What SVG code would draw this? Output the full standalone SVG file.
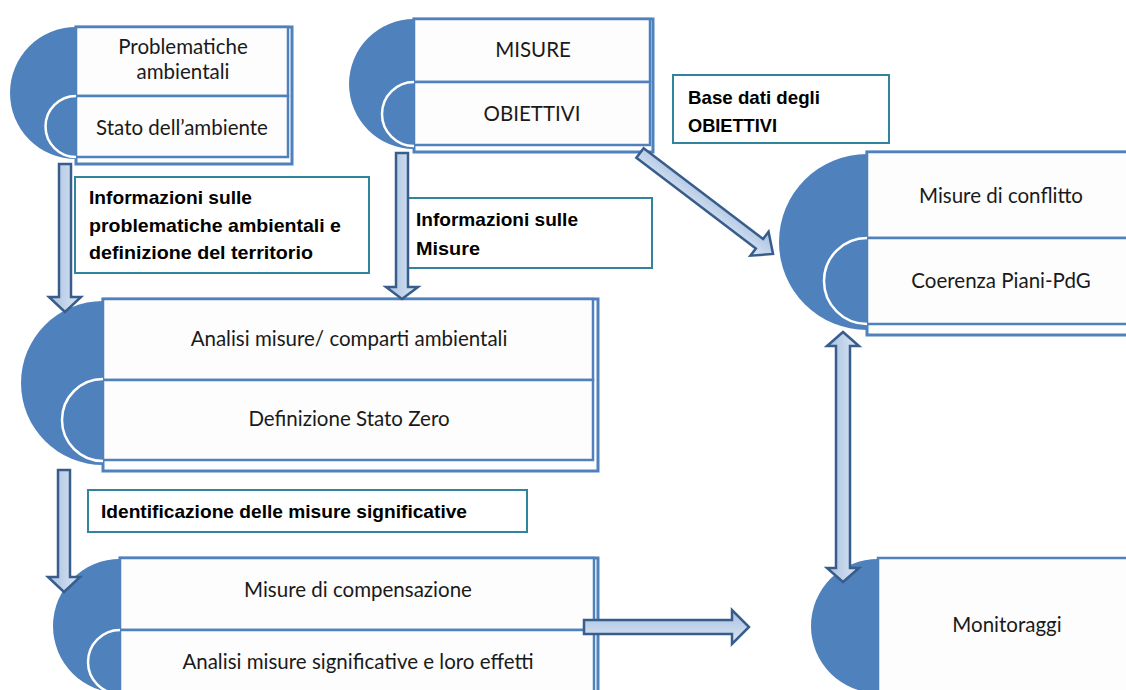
<svg xmlns="http://www.w3.org/2000/svg" width="1126" height="690" viewBox="0 0 1126 690">
<style>
.disc{fill:#4F81BD;}
.inner{fill:none;stroke:#FFFFFF;stroke-width:2.5;}
.row{fill:#FDFDFD;stroke:#4F81BD;stroke-width:2.5;}
.frame{fill:none;stroke:#4F81BD;stroke-width:3;}
.t{font-family:Lato,"Liberation Sans",sans-serif;font-size:20.5px;fill:#1a1a1a;text-anchor:middle;}
.lbl{fill:#FFFFFF;stroke:#31849B;stroke-width:2;}
.b{font-family:"Liberation Sans",Arial,sans-serif;font-weight:bold;font-size:19px;fill:#000;}
.arr{stroke:#385D8A;stroke-width:2.5;stroke-linejoin:miter;}
</style>
<defs>
<linearGradient id="gv" x1="0" y1="0" x2="1" y2="0">
<stop offset="0" stop-color="#A7C0E2"/><stop offset="1" stop-color="#DCE6F2"/>
</linearGradient>
<linearGradient id="gh" x1="0" y1="0" x2="0" y2="1">
<stop offset="0" stop-color="#A7C0E2"/><stop offset="1" stop-color="#DCE6F2"/>
</linearGradient>
</defs>
<rect width="1126" height="690" fill="#FFFFFF"/>

<g id="node-problematiche">
<rect class="frame" x="76" y="27" width="216" height="137"/>
<rect class="row" x="76" y="27" width="212" height="69"/>
<rect class="row" x="76" y="96" width="212" height="61"/>
<path class="disc" d="M76,27 A66,66 0 0 0 76,159 Z"/>
<path class="inner" d="M76,96 A30.5,30.5 0 0 0 76,157"/>
<text class="t" x="183" y="54">Problematiche</text>
<text class="t" x="183" y="79">ambientali</text>
<text class="t" x="182" y="135">Stato dell’ambiente</text>
</g>

<g id="node-misure">
<rect class="frame" x="414" y="19" width="239" height="133"/>
<rect class="row" x="414" y="19" width="236" height="63"/>
<rect class="row" x="414" y="82" width="236" height="63"/>
<path class="disc" d="M414,19 A65,65 0 0 0 414,149 Z"/>
<path class="inner" d="M414,82 A32,32 0 0 0 414,146"/>
<text class="t" x="533" y="57">MISURE</text>
<text class="t" x="532" y="121">OBIETTIVI</text>
</g>

<g id="node-analisi">
<rect class="frame" x="103" y="299" width="495" height="172"/>
<rect class="row" x="103" y="299" width="490" height="81"/>
<rect class="row" x="103" y="380" width="490" height="80"/>
<path class="disc" d="M103,301 A82,82 0 0 0 103,465 Z"/>
<path class="inner" d="M103,379 A41,41 0 0 0 103,461"/>
<text class="t" x="349" y="346">Analisi misure/ comparti ambientali</text>
<text class="t" x="349" y="426">Definizione Stato Zero</text>
</g>

<g id="node-compensazione">
<rect class="frame" x="120" y="558" width="478" height="150"/>
<rect class="row" x="120" y="558" width="474" height="72"/>
<rect class="row" x="120" y="630" width="474" height="72"/>
<path class="disc" d="M120,559 A67,67 0 0 0 120,693 Z"/>
<path class="inner" d="M120,630 A32,32 0 0 0 120,694"/>
<text class="t" x="358" y="597">Misure di compensazione</text>
<text class="t" x="358" y="669">Analisi misure significative e loro effetti</text>
</g>

<g id="node-conflitto">
<rect class="frame" x="867" y="152" width="270" height="183"/>
<rect class="row" x="867" y="152" width="266" height="86"/>
<rect class="row" x="867" y="238" width="266" height="86"/>
<path class="disc" d="M867,154 A88,88 0 0 0 867,330 Z"/>
<path class="inner" d="M867,238 A43,43 0 0 0 867,324"/>
<text class="t" x="1001" y="203">Misure di conflitto</text>
<text class="t" x="1001" y="288">Coerenza Piani-PdG</text>
</g>

<g id="node-monitoraggi">
<rect class="row" x="878" y="558" width="260" height="150"/>
<path class="disc" d="M878,559 A67,67 0 0 0 878,693 Z"/>
<text class="t" x="1007" y="632">Monitoraggi</text>
</g>

<g id="label-informazioni-problematiche">
<rect class="lbl" x="75" y="177" width="294" height="96"/>
<text class="b" x="89" y="204" textLength="163" lengthAdjust="spacingAndGlyphs">Informazioni sulle</text>
<text class="b" x="89" y="232" textLength="252" lengthAdjust="spacingAndGlyphs">problematiche ambientali e</text>
<text class="b" x="89" y="259" textLength="224" lengthAdjust="spacingAndGlyphs">definizione del territorio</text>
</g>

<g id="label-informazioni-misure">
<rect class="lbl" x="408" y="198" width="244" height="70"/>
<text class="b" x="416" y="226" textLength="162" lengthAdjust="spacingAndGlyphs">Informazioni sulle</text>
<text class="b" x="416" y="255" textLength="64" lengthAdjust="spacingAndGlyphs">Misure</text>
</g>

<g id="label-base-dati">
<rect class="lbl" x="673" y="75" width="216" height="68"/>
<text class="b" x="688" y="104" textLength="132" lengthAdjust="spacingAndGlyphs">Base dati degli</text>
<text class="b" x="688" y="132" textLength="89" lengthAdjust="spacingAndGlyphs">OBIETTIVI</text>
</g>

<g id="label-identificazione">
<rect class="lbl" x="88" y="490" width="439" height="42"/>
<text class="b" x="101" y="518" textLength="366" lengthAdjust="spacingAndGlyphs">Identificazione delle misure significative</text>
</g>

<g id="connectors">
<path class="arr" fill="url(#gv)" d="M59,164 H71 V297 H81 L65,312 L49,297 H59 Z"/>
<path class="arr" fill="url(#gv)" d="M396,153 H408 V287 H418 L402,299 L386,287 H396 Z"/>
<path class="arr" fill="url(#gv)" d="M58,470 H70 V577 H80 L64,592 L48,577 H58 Z"/>
<path class="arr" fill="url(#gh)" d="M584,620 H732 V610 L749,627 L732,644 V634 H584 Z"/>
<path class="arr" fill="url(#gh)" transform="translate(640,153) rotate(37.2)" d="M0,-6 H150 V-15 L167,0 L150,15 V6 H0 Z"/>
<path class="arr" fill="url(#gv)" d="M843,332 L859,346 H850 V568 H859 L843,582 L827,568 H836 V346 H827 Z"/>
</g>
</svg>
